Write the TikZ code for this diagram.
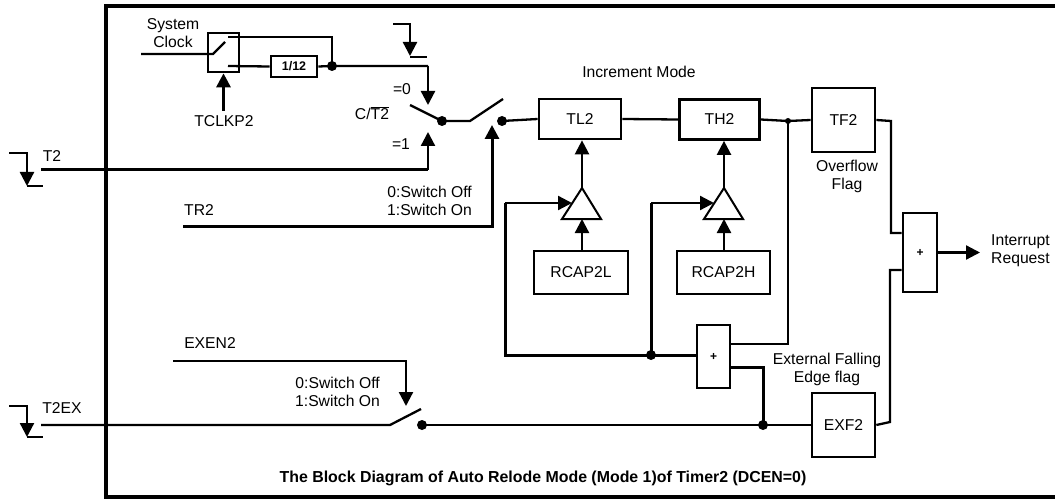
\documentclass[tikz,border=0pt]{standalone}
\usepackage{fontspec}
\setmainfont{Liberation Sans}
\usetikzlibrary{arrows.meta}
\newcommand{\fs}{\fontsize{15.7}{18}\selectfont}
\begin{document}
\begin{tikzpicture}[x=1pt,y=-1pt,
  box/.style={draw, line width=2.7pt, inner sep=0, font=\fs},
  wire/.style={line width=2.3pt},
  thk/.style={line width=3pt},
  arr/.style={-{Triangle[length=14pt,width=14pt]}},
  dot/.style={circle, fill, inner sep=0, minimum size=10pt},
  sdot/.style={circle, fill, inner sep=0, minimum size=6pt},
  lbl/.style={font=\fs, inner sep=0}]
\useasboundingbox (0,0) rectangle (1055,500);
% outer frame
\draw[line width=3.6pt] (1070,6) -- (106,6) -- (106,497) -- (1070,497);

% boxes
\node[box, minimum width=31pt, minimum height=39pt] (clk) at (223.5,52.5) {};
\node[box, minimum width=46pt, minimum height=21pt, font=\fontsize{12.5}{14}\selectfont\bfseries] (div) at (294,66.5) {1/12};
\node[box, minimum width=82pt, minimum height=40pt] (tl) at (580,119) {TL2};
\node[box, minimum width=80pt, minimum height=40pt] (th) at (719.5,119.5) {TH2};
\node[box, minimum width=63pt, minimum height=64pt] (tf) at (843.5,120) {TF2};
\node[box, minimum width=63pt, minimum height=64pt] (exf) at (843.5,425) {EXF2};
\node[box, minimum width=34pt, minimum height=79pt, font=\fontsize{12}{13}\selectfont\bfseries] (orint) at (920,252.5) {+};
\node[box, minimum width=33pt, minimum height=63pt, font=\fontsize{12}{13}\selectfont\bfseries] (orrel) at (713.5,356.5) {+};
\node[box, minimum width=94pt, minimum height=43pt] (rl) at (581,272.5) {RCAP2L};
\node[box, minimum width=93pt, minimum height=43pt] (rh) at (723.5,272.5) {RCAP2H};

% triangles (buffers)
\coordinate (t1a) at (582,188); \coordinate (t1b) at (582,219);
\coordinate (t1l) at (572,203);
\coordinate (t2a) at (724,188); \coordinate (t2b) at (724,219);
\coordinate (t2l) at (714,203);
\draw[line width=2pt, line join=miter] (562,219) -- (t1a) -- (601,219) -- cycle;
\draw[line width=2pt, line join=miter] (704,219) -- (t2a) -- (743,219) -- cycle;

% dots
\node[dot] (dclk) at (332,66) {};
\node[dot] (dsw1) at (442,121) {};
\node[dot] (dsw2) at (502,121) {};
\node[sdot] (dth) at (788,121) {};
\node[dot] (drel) at (651,355) {};
\node[dot] (dsw3) at (422,425) {};
\node[dot] (dex) at (763,425) {};

% labels
\node[lbl, align=center] (lsys) at (173,33) {System\\Clock};
\node[lbl] (ltclk) at (224,121) {TCLKP2};
\node[lbl] (lt2) at (52,156) {T2};
\node[lbl] (leq0) at (402,89) {=0};
\node[lbl] (leq1) at (401,144) {=1};
\node[lbl] (lct) at (372,113) {C/$\overline{\hbox{T2}}$};
\node[lbl] (linc) at (639,72) {Increment Mode};
\node[lbl, align=right, anchor=east] (lsw1) at (472,201) {0:Switch Off\\1:Switch On};
\node[lbl] (ltr2) at (199,210) {TR2};
\node[lbl] (lexen) at (210,343) {EXEN2};
\node[lbl] (lt2ex) at (62,408) {T2EX};
\node[lbl, align=right, anchor=east] (lsw2) at (380,391.5) {0:Switch Off\\1:Switch On};
\node[lbl, align=center] (lext) at (827,369) {External Falling\\Edge flag};
\node[lbl, align=center] (lovf) at (847,176) {Overflow\\Flag};
\node[lbl, align=left, anchor=west] (lint) at (991,250.5) {Interrupt\\Request};
\node[lbl, font=\fontsize{15.9}{18}\selectfont\bfseries] (lcap) at (543,478) {The Block Diagram of Auto Relode Mode (Mode 1)of Timer2 (DCEN=0)};

% clock selector
\coordinate (sclk) at (141,54);
\draw[wire] (sclk) -- (213,54) -- (225,42);
\draw[wire] (228,37) -- (332,37) -- (dclk.center);
\draw[wire] (228,66) -- (div.west);
\draw[wire] (div.east) -- (dclk.center) -- (428,66);
\draw[wire, arr] (428,66) -- (428,105);
\draw[thk, arr] (223.5,111) -- (clk.south);

% top falling edge symbol
\coordinate (fe1) at (393,24);
\draw[wire, arr] (fe1) -- (410,24) -- (410,56);
\draw[wire] (410,57) -- (427,57);

% T2 input
\coordinate (fe2) at (9,153);
\draw[wire, arr] (fe2) -- (27,153) -- (27,186);
\draw[wire] (27,186) -- (43,186);
\draw[thk] (41,170) -- (428,170);
\draw[wire, arr] (428,170) -- (428,132);

% switches
\draw[wire] (410,105) -- (dsw1.center) -- (470,121) -- (503,99);
\draw[wire] (dsw2.center) -- (tl.west);
\coordinate (tr2) at (183,226);
\draw[thk] (tr2) -- (492,226) -- (492,150);
\draw[thk, arr] (492,150) -- (492,125);

% counter chain
\draw[wire] (tl.east) -- (th.west);
\draw[wire] (th.east) -- (dth.center) -- (tf.west);
\draw[wire] (tf.east) -- (891,121) -- (891,233) -- (orint.west |- 0,233);
\draw[wire, arr] (orint.east) -- (980,252.5);
\draw[wire] (exf.east) -- (890,422) -- (890,270) -- (orint.west |- 0,270);

% reload
\draw[wire] (dth.center) -- (788,344) -- (orrel.east |- 0,344);
\draw[thk] (orrel.east |- 0,367) -- (763,367) -- (dex.center);
\draw[thk] (orrel.west |- 0,355) -- (drel.center) -- (505,355) -- (505,203);
\draw[wire, arr] (505,203) -- (t1l);
\draw[thk] (drel.center) -- (651,203);
\draw[wire, arr] (651,203) -- (t2l);
\draw[wire, arr] (t1a) -- (tl.south -| t1a);
\draw[wire, arr] (t2a) -- (th.south -| t2a);
\draw[wire, arr] (rl.north -| t1b) -- (t1b);
\draw[wire, arr] (rh.north -| t2b) -- (t2b);

% T2EX
\coordinate (fe3) at (9,406);
\draw[wire, arr] (fe3) -- (27,406) -- (27,437);
\draw[wire] (27,437) -- (43,437);
\draw[wire] (41,425) -- (390,425) -- (421,409);
\draw[wire] (dsw3.center) -- (dex.center) -- (exf.west);
\coordinate (exen) at (173,361);
\draw[wire, arr] (exen) -- (406,361) -- (406,406);
\end{tikzpicture}
\end{document}
